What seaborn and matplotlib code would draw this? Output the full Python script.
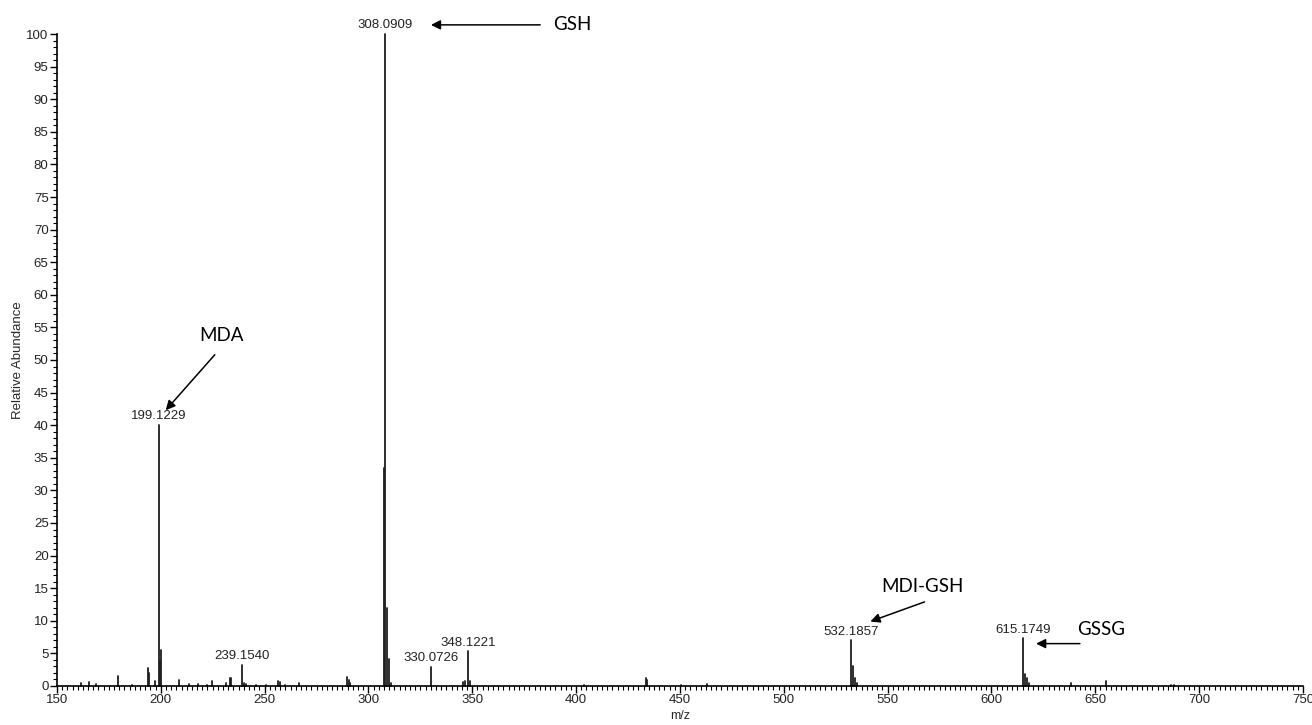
import numpy as np
import pandas as pd
import matplotlib
matplotlib.use('Agg')
import matplotlib.pyplot as plt
from matplotlib.ticker import MultipleLocator
import seaborn as sns

sns.set_theme(style='ticks')
plt.rcParams['font.family'] = ['Liberation Sans', 'DejaVu Sans']

## Peak list (m/z, relative abundance).
mz = [161.5, 165.2, 168.7, 179.2, 186.1, 193.8, 194.5, 197.1, 199.1229, 199.6, 200.1,
      208.9, 213.5, 218.0, 222.5, 224.7, 231.5, 233.3, 234.0, 239.1540, 240.2, 241.2,
      246.0, 250.5, 256.5, 257.2, 260.0, 266.5, 289.9, 290.6, 291.3,
      307.5, 308.0909, 309.09, 310.09, 311.1, 330.0726, 345.5, 346.3, 348.1221, 349.1,
      404.0, 433.5, 434.3, 450.3, 463.0, 532.1857, 533.2, 534.2, 535.1,
      615.1749, 616.2, 617.2, 618.3, 638.5, 655.0, 686.5, 688.0]
abund = [0.5, 0.6, 0.3, 1.5, 0.2, 2.7, 2.0, 0.7, 40.0, 3.8, 5.5,
         0.9, 0.3, 0.3, 0.2, 0.7, 0.4, 1.3, 1.3, 3.2, 0.4, 0.3,
         0.2, 0.2, 0.8, 0.6, 0.2, 0.4, 1.4, 0.9, 0.5,
         33.5, 100.0, 12.0, 4.2, 0.5, 2.9, 0.6, 0.8, 5.3, 0.7,
         0.2, 1.3, 0.9, 0.2, 0.3, 7.0, 3.0, 1.3, 0.4,
         7.3, 1.8, 1.3, 0.4, 0.5, 0.8, 0.2, 0.2]

## Labelled peaks.
labelled = ['199.1229', '239.1540', '308.0909', '330.0726', '348.1221', '532.1857', '615.1749']

## Compound annotations: (name, text xy, arrow tail, arrow tip).
compounds = ['MDA', 'GSH', 'MDI-GSH', 'GSSG']
text_xy = [(229.3, 53.7), (398.0, 101.4), (567.0, 15.2), (653.0, 8.6)]
arrow_tail = [(226.0, 50.8), (382.7, 101.4), (567.8, 12.9), (642.6, 6.5)]
arrow_tip = [(202.4, 42.3), (330.1, 101.4), (541.7, 9.9), (621.5, 6.5)]

#~~~~~~~~~~~~~~~~~~~~~~~~~~~~~~~~~~~~~~~~~~#
### Build long-form stems.
#~~~~~~~~~~~~~~~~~~~~~~~~~~~~~~~~~~~~~~~~~~#
n = len(mz)
df = pd.DataFrame({'mz': np.repeat(mz, 2),
                   'abund': np.column_stack([np.zeros(n), abund]).ravel(),
                   'peak': np.repeat(np.arange(n), 2)})

fig = plt.figure(figsize=(13.12, 7.25), dpi=100)
ax = fig.add_axes([0.0434, 0.0538, 0.9497, 0.8993])

sns.lineplot(data=df, x='mz', y='abund', units='peak', estimator=None, sort=True,
             color='#1e1e1e', lw=1.3, legend=False, ax=ax)
for line in ax.lines: line.set_clip_on(False)

## Peak labels.
lookup = dict(zip(mz, abund))
for lab in labelled:
    x = float(lab)
    ax.annotate(lab, (x, lookup[x]), xytext=(0, 2), textcoords='offset points',
                ha='center', va='bottom', fontsize=9.5, color='#222222', annotation_clip=False)

## Compound arrows.
for name, txy, tail, tip in zip(compounds, text_xy, arrow_tail, arrow_tip):
    ax.annotate('', xy=tip, xytext=tail, annotation_clip=False,
                arrowprops=dict(arrowstyle='-|>', color='black', lw=1.1, mutation_scale=14,
                                shrinkA=0, shrinkB=0))
    ax.text(txy[0], txy[1], name, ha='center', va='center', fontsize=13.5,
            family=['Lato', 'DejaVu Sans'], color='black', clip_on=False)

## Axes.
ax.set(xlim=(150, 750), ylim=(0, 100))
ax.xaxis.set_major_locator(MultipleLocator(50))
ax.xaxis.set_minor_locator(MultipleLocator(2.5))
ax.yaxis.set_major_locator(MultipleLocator(5))
ax.yaxis.set_minor_locator(MultipleLocator(1))
ax.tick_params(which='major', length=5, width=1, color='black', labelsize=9.5, labelcolor='#222222', pad=1)
ax.tick_params(which='minor', length=3, width=0.8, color='black')
ax.set_xlabel('m/z', fontsize=9, labelpad=3)
ax.set_ylabel('Relative Abundance', fontsize=9.5, labelpad=2)
for s in ['left', 'bottom']:
    ax.spines[s].set(color='black', linewidth=1.2)
sns.despine(ax=ax, top=True, right=True)

plt.savefig('out.png', dpi=100)
